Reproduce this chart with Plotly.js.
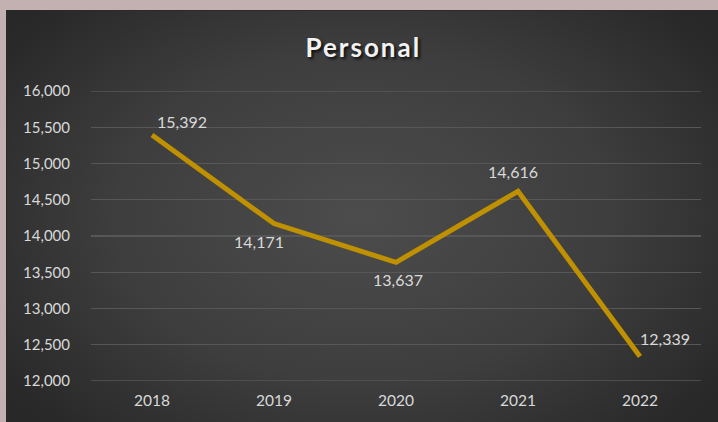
<!DOCTYPE html>
<html><head><meta charset="utf-8">
<script src="https://cdn.plot.ly/plotly-3.0.1.min.js"></script>
<style>
html,body{margin:0;padding:0;width:718px;height:422px;overflow:hidden;background:#c3b0b1;}
#bg{position:absolute;left:6px;top:10px;width:712px;height:412px;
 background:radial-gradient(ellipse 62% 72% at 50% 50%, #4c4c4c 0%, #3e3e3e 55%, #282828 100%);
 box-shadow: inset 1px 1px 0 #2a2a2a;}
#chart{position:absolute;left:0;top:0;width:718px;height:422px;}
.gtitle{text-shadow:2px 2px 3px rgba(0,0,0,0.8);letter-spacing:2px;}
</style>
</head><body>
<div id="bg"></div>
<div id="chart"></div>
<script>
const years = ["2018","2019","2020","2021","2022"];
const values = [15392, 14171, 13637, 14616, 12339];
const labelText = ["15,392","14,171","13,637","14,616","12,339"];
const labelDx = [30, -15, 2, -5, 25];
const labelDy = [14, -18, -17, 20, 18];
const yTicks = [12000,12500,13000,13500,14000,14500,15000,15500,16000];
const yTickText = ["12,000","12,500","13,000","13,500","14,000","14,500","15,000","15,500","16,000"];

const trace = {
  x: years, y: values, type: "scatter", mode: "lines",
  line: {color: "#bf9000", width: 5},
  hoverinfo: "skip"
};
const annotations = years.map((yr, i) => ({
  x: i, y: values[i], xref: "x", yref: "y",
  text: labelText[i], showarrow: false,
  xshift: labelDx[i], yshift: labelDy[i],
  font: {family: "Lato, sans-serif", size: 16, color: "#d9d9d9"}
}));
const layout = {
  width: 718, height: 422,
  paper_bgcolor: "rgba(0,0,0,0)", plot_bgcolor: "rgba(0,0,0,0)",
  margin: {l: 91, r: 17, t: 91, b: 41},
  showlegend: false,
  title: {text: "<b>Personal</b>", x: 0.506, xanchor: "center", y: 0.887, yanchor: "middle",
    font: {family: "Lato, sans-serif", size: 26, color: "#f2f2f2"}},
  xaxis: {type: "category", categoryorder: "array", categoryarray: years,
    range: [-0.5, years.length - 0.5], autorange: false,
    showgrid: false, zeroline: false, showline: false,
    ticks: "", tickfont: {family: "Lato, sans-serif", size: 15.5, color: "#d9d9d9"},
    ticklabelstandoff: 8, fixedrange: true},
  yaxis: {range: [12000, 16000], autorange: false, tickvals: yTicks, ticktext: yTickText,
    showgrid: true, gridcolor: "#575757", gridwidth: 1.4, zeroline: false, showline: false,
    ticks: "", tickfont: {family: "Lato, sans-serif", size: 15, color: "#d9d9d9"},
    ticklabelstandoff: 20, fixedrange: true},
  shapes: [
    {type: "line", xref: "paper", yref: "y", x0: 0, x1: 1, y0: 16000, y1: 16000, line: {color: "#575757", width: 1.4}, layer: "below"},
    {type: "line", xref: "paper", yref: "y", x0: 0, x1: 1, y0: 12000, y1: 12000, line: {color: "#575757", width: 1.4}, layer: "below"}
  ],
  annotations: annotations
};
Plotly.newPlot("chart", [trace], layout, {displayModeBar: false, staticPlot: true});
</script>
</body></html>
